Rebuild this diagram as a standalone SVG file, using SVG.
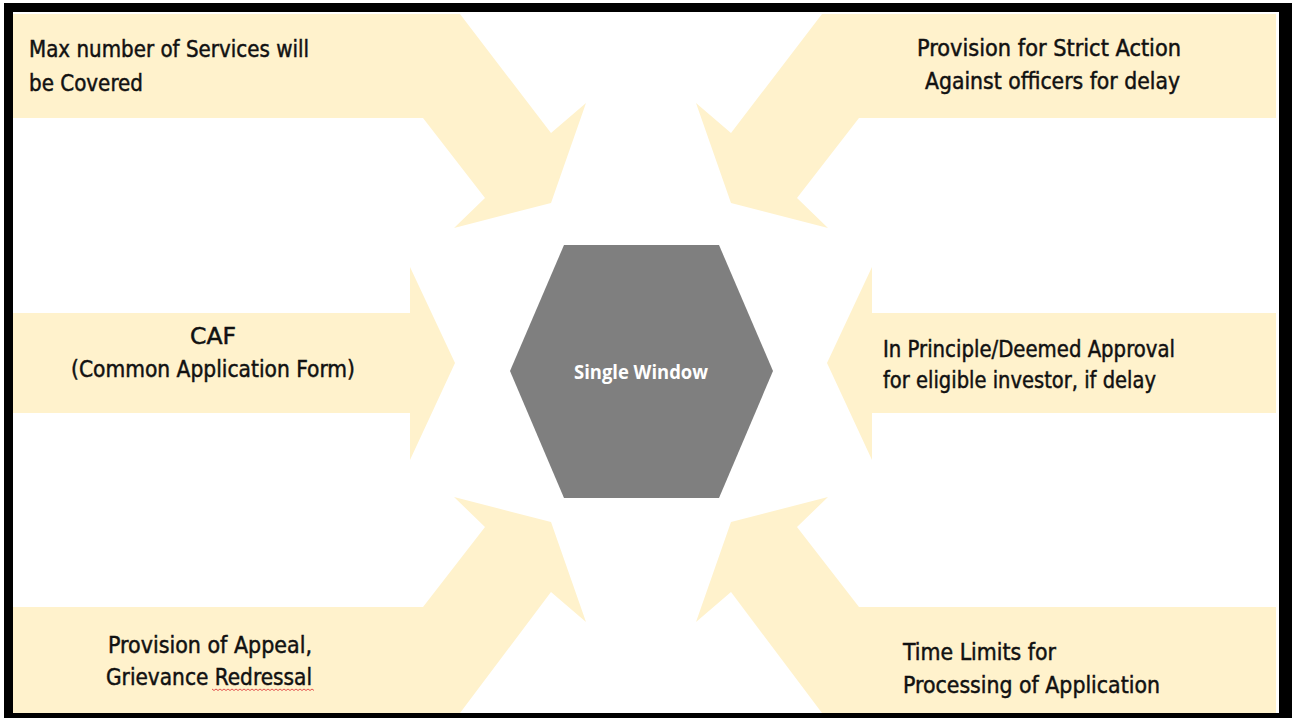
<svg xmlns="http://www.w3.org/2000/svg" width="1292" height="718" viewBox="0 0 1292 718">
  <style>
    .arrow { fill: #FFF2CC; stroke: none; }
    .lbl { font-family: "DejaVu Sans Condensed", "DejaVu Sans", sans-serif; font-size: 22.5px; fill: #111111; stroke: #111111; stroke-width: 0.45px; }
    .hex { fill: #7F7F7F; stroke: none; }
    .hlbl { font-family: "Open Sans", "Liberation Sans", sans-serif; font-weight: bold; font-size: 19.5px; fill: #FFFFFF; }
  </style>
  <rect x="0" y="0" width="1292" height="718" fill="#FFFFFF"/>

  <g id="connectors">
    <polygon class="arrow" points="10,14 460,14 551,133 586,103 551,203 454,228 485,198 423,118 10,118"/>
    <polygon class="arrow" points="1276,14 822,14 731,133 696,103 731,203 828,228 797,198 859,118 1276,118"/>
    <polygon class="arrow" points="10,313 410,313 410,267 455,363 410,460 410,413 10,413"/>
    <polygon class="arrow" points="1276,313 872,313 872,267 827,363 872,460 872,413 1276,413"/>
    <polygon class="arrow" points="10,713 460,713 551,592 586,622 551,522 454,497 485,527 423,607 10,607"/>
    <polygon class="arrow" points="1276,713 822,713 731,592 696,622 731,522 828,497 797,527 859,607 1276,607"/>
  </g>

  <g id="node-max-services">
    <text class="lbl" x="29" y="57" textLength="280" lengthAdjust="spacingAndGlyphs">Max number of Services will</text>
    <text class="lbl" x="29" y="91" textLength="114" lengthAdjust="spacingAndGlyphs">be Covered</text>
  </g>

  <g id="node-strict-action">
    <text class="lbl" x="917" y="56" textLength="264" lengthAdjust="spacingAndGlyphs">Provision for Strict Action</text>
    <text class="lbl" x="925" y="89" textLength="255" lengthAdjust="spacingAndGlyphs">Against officers for delay</text>
  </g>

  <g id="node-caf">
    <text class="lbl" x="190" y="344" textLength="46" lengthAdjust="spacingAndGlyphs">CAF</text>
    <text class="lbl" x="71" y="377" textLength="284" lengthAdjust="spacingAndGlyphs">(Common Application Form)</text>
  </g>

  <g id="node-deemed-approval">
    <text class="lbl" x="883" y="357" textLength="292" lengthAdjust="spacingAndGlyphs">In Principle/Deemed Approval</text>
    <text class="lbl" x="883" y="388" textLength="273" lengthAdjust="spacingAndGlyphs">for eligible investor, if delay</text>
  </g>

  <g id="node-appeal">
    <text class="lbl" x="108" y="653" textLength="204" lengthAdjust="spacingAndGlyphs">Provision of Appeal,</text>
    <text class="lbl" x="106" y="685" textLength="206" lengthAdjust="spacingAndGlyphs">Grievance Redressal</text>
    <path d="M212,689 l2,1.5 l2,-1.5 l2,1.5 l2,-1.5 l2,1.5 l2,-1.5 l2,1.5 l2,-1.5 l2,1.5 l2,-1.5 l2,1.5 l2,-1.5 l2,1.5 l2,-1.5 l2,1.5 l2,-1.5 l2,1.5 l2,-1.5 l2,1.5 l2,-1.5 l2,1.5 l2,-1.5 l2,1.5 l2,-1.5 l2,1.5 l2,-1.5 l2,1.5 l2,-1.5 l2,1.5 l2,-1.5 l2,1.5 l2,-1.5 l2,1.5 l2,-1.5 l2,1.5 l2,-1.5 l2,1.5 l2,-1.5 l2,1.5 l2,-1.5 l2,1.5 l2,-1.5 l2,1.5 l2,-1.5 l2,1.5 l2,-1.5 l2,1.5 l2,-1.5 l2,1.5 l2,-1.5 l2,1.5" fill="none" stroke="#E04040" stroke-width="0.9"/>
  </g>

  <g id="node-time-limits">
    <text class="lbl" x="903" y="660" textLength="153" lengthAdjust="spacingAndGlyphs">Time Limits for</text>
    <text class="lbl" x="903" y="693" textLength="257" lengthAdjust="spacingAndGlyphs">Processing of Application</text>
  </g>

  <g id="node-single-window">
    <polygon class="hex" points="564,245 719,245 773,371 719,498 564,498 510,371"/>
    <text class="hlbl" x="574" y="379" textLength="134" lengthAdjust="spacingAndGlyphs">Single Window</text>
  </g>

  <path d="M4,3 H1292 V718 H4 Z M13,12 V713 H1279 V12 Z" fill="#000000" fill-rule="evenodd"/>
</svg>
